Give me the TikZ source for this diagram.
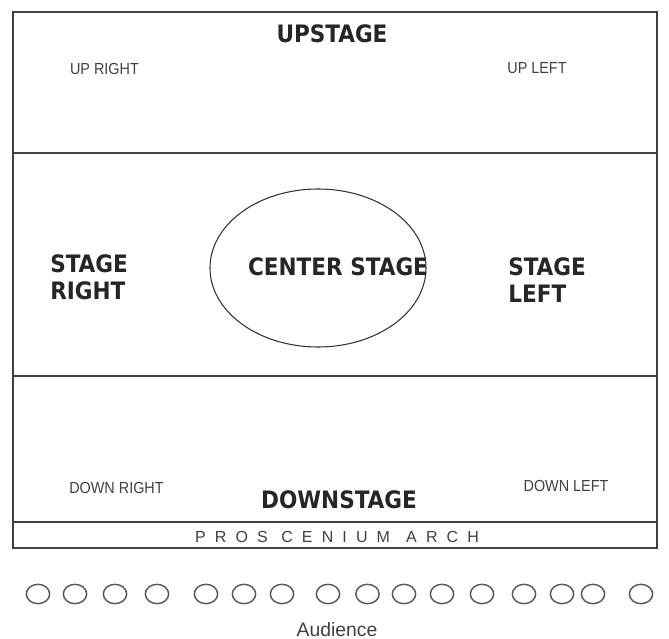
\documentclass[tikz,border=0pt]{standalone}
\usepackage{fontspec}
\setmainfont{DejaVu Sans Condensed}
\newfontfamily\labfont{Liberation Sans}
\usetikzlibrary{shapes.geometric}
\begin{document}
\begin{tikzpicture}[x=0.75pt,y=-0.75pt,
  edge/.style={draw=black!75,line width=1.1pt},
  big/.style={font=\fontsize{18}{20.25}\selectfont\bfseries,text=black!85,inner sep=0pt},
  small/.style={font=\labfont\fontsize{12}{14}\selectfont\addfontfeature{FakeStretch=0.9},text=black!75,inner sep=0pt},
  seat/.style={ellipse,draw=black!65,line width=1.1pt,minimum width=17.5pt,minimum height=14.5pt,inner sep=0pt}]
\useasboundingbox (0,0) rectangle (669,639);
\draw[edge] (13,12) rectangle (657,522);
\draw[edge] (13,522) rectangle (657,548);
\draw[edge] (13,153) -- (657,153);
\draw[edge] (13,376) -- (657,376);
\node[ellipse,draw=black!80,line width=0.8pt,minimum width=162pt,minimum height=118.5pt,inner sep=0pt] (cs) at (318,268) {};
\node[big] (up) at (332,34) {UPSTAGE};
\node[small] (ur) at (104.5,68.5) {UP RIGHT};
\node[small] (ul) at (537,68.5) {UP LEFT};
\node[big,align=left,anchor=west] (sr) at (50,277.5) {STAGE\\RIGHT};
\node[big,align=left,anchor=west] (sl) at (508,280) {STAGE\\LEFT};
\node[big] (cst) at (338,266.5) {CENTER STAGE};
\node[small] (dr) at (116.5,488) {DOWN RIGHT};
\node[small] (dl) at (566,486) {DOWN LEFT};
\node[big] (ds) at (339,500) {DOWNSTAGE};
\node[small,font=\labfont\fontsize{12}{14}\selectfont\addfontfeature{LetterSpace=57}] (pa) at (337,537) {PROS CENIUM\, ARCH};
\foreach \i/\x in {1/38,2/75,3/115,4/157,5/206,6/244,7/282,8/328,9/367.5,10/404,11/442,12/482,13/524,14/562,15/593,16/641}
  \node[seat] (s\i) at (\x,594) {};
\node[small,font=\labfont\fontsize{14.5}{16}\selectfont] (aud) at (337,630) {Audience};
\end{tikzpicture}
\end{document}
